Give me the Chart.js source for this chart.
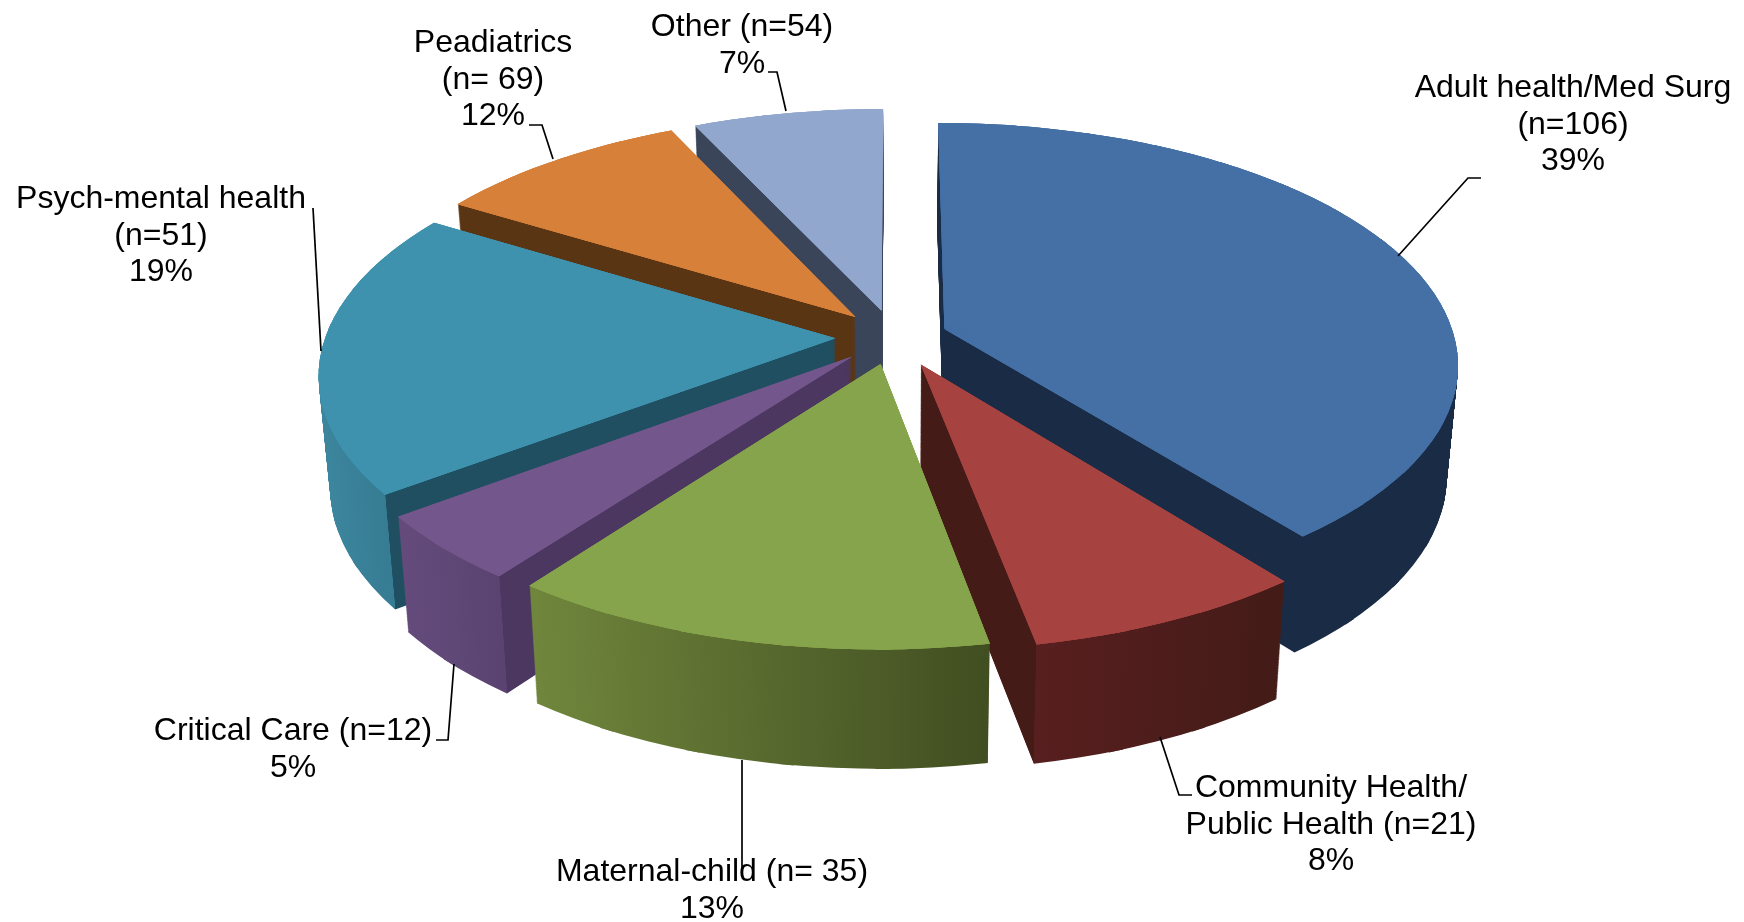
<!DOCTYPE html>
<html>
<head>
<meta charset="utf-8">
<style>html,body{margin:0;padding:0;background:#fff}canvas{display:block}</style>
<script src="https://cdn.jsdelivr.net/npm/chart.js@4"></script>
</head>
<body>
<canvas id="c" width="1744" height="922"></canvas>
<script>
// Slice shares (clockwise from 12 o'clock).
const categories = ['Adult health/Med Surg','Community Health/Public Health','Maternal-child','Critical Care','Psych-mental health','Peadiatrics','Other'];
const sliceShares = [39.3, 7.6, 13.1, 4.5, 19, 9.3, 6.9];
const counts = [106, 21, 35, 12, 51, 69, 54];
const percents = [39, 8, 13, 5, 19, 12, 7];
const explodes = [0.105, 0.125, 0.115, 0.115, 0.115, 0.115, 0.115];
const topColors = ['#4570A5','#A64341','#86A44B','#73568C','#3F92AE','#D7803A','#92A7CD'];
const wallColors = ['#1A2B45','#451B17','#434F22','#4B3760','#1F4F60','#5A3514','#3A455A'];
const rimLeftColors = ['#1A2B45','#581F1F','#70863C','#644B7C','#3C869E','#5A3514','#3A455A'];
const rimRightColors = ['#1A2B45','#431B17','#414E21','#5A4370','#367C93','#5A3514','#3A455A'];
const paintOrder = [6,5,4,0,3,1,2];

// Text blocks: lines, centre x, first line centre y
const labelLines = [
  ['Adult health/Med Surg','(n=106)','39%'],
  ['Community Health/','Public Health (n=21)','8%'],
  ['Maternal-child (n= 35)','13%'],
  ['Critical Care (n=12)','5%'],
  ['Psych-mental health','(n=51)','19%'],
  ['Peadiatrics','(n= 69)','12%'],
  ['Other (n=54)','7%']
];
const labelAnchors = [[1573,88],[1331,788],[712,872],[293,731],[161,199],[493,43],[742,27]];
const leaders = [
  [[1398,256],[1468,178],[1481,178]],
  [[1160,737],[1179,795],[1192,795]],
  [[742,760],[742,873]],
  [[454,664],[448,740],[436,740]],
  [[321,351],[313,208]],
  [[553,159],[542,125],[529,125]],
  [[786,111],[777,72],[768,72]]
];

// Camera used for the tilted, perspective view of the pie
const view = {cx:894, cy:337, rx:510, ry:237, p:0.141, height:110, rxShrink:0.02, ryGrow:0.03};
function project(X, Y, t){
  const w = 1 - view.p*Y;
  return [view.cx + view.rx*(1-view.rxShrink*t)*X/w,
          view.cy + view.height*t + view.ry*(1+view.ryGrow*t)*Y/w];
}
function shift(arc){
  const mid=(arc.startAngle+arc.endAngle)/2, d=explodes[arc.$index];
  return [d*Math.cos(mid), d*Math.sin(mid)];
}
// Affine map taking one narrow wedge of the element onto its projected position
function wedgeAffine(arc, a1, a2, t){
  const [ox,oy] = shift(arc);
  const P0 = project(ox,oy,t);
  const P1 = project(Math.cos(a1)+ox,Math.sin(a1)+oy,t);
  const P2 = project(Math.cos(a2)+ox,Math.sin(a2)+oy,t);
  const u1=Math.cos(a1), v1=Math.sin(a1), u2=Math.cos(a2), v2=Math.sin(a2);
  const det=u1*v2-u2*v1;
  const dx1=P1[0]-P0[0], dy1=P1[1]-P0[1], dx2=P2[0]-P0[0], dy2=P2[1]-P0[1];
  const r=arc.outerRadius;
  const A=(dx1*v2-dx2*v1)/det/r, B=(dx2*u1-dx1*u2)/det/r;
  const C=(dy1*v2-dy2*v1)/det/r, D=(dy2*u1-dy1*u2)/det/r;
  return {A,B,C,D,E:P0[0]-A*arc.x-B*arc.y,F:P0[1]-C*arc.x-D*arc.y};
}
function frontRange(arc, t){
  const s=arc.startAngle,e=arc.endAngle;
  const [ox,oy]=shift(arc);
  let lo=1e9, hi=-1e9;
  for(let i=0;i<=40;i++){
    const a=s+(e-s)*i/40;
    if(Math.sin(a)<-0.02) continue;
    const x=project(Math.cos(a)+ox,Math.sin(a)+oy,t)[0];
    lo=Math.min(lo,x); hi=Math.max(hi,x);
  }
  return [lo,hi];
}
const wedgeStep = 10*Math.PI/180, seam = 1.5*Math.PI/180;
function drawLayer(ctx, arc, t, fill, passes){
  const s=arc.startAngle, e=arc.endAngle, n=Math.max(1,Math.ceil((e-s)/wedgeStep));
  for(let pass=0;pass<passes;pass++){
    for(let w=0;w<n;w++){
      const a1=s+(e-s)*w/n, a2=s+(e-s)*(w+1)/n;
      const f=wedgeAffine(arc,a1,a2,t);
      ctx.save();
      ctx.transform(f.A,f.C,f.B,f.D,f.E,f.F);
      const proxy=Object.create(arc);
      proxy.startAngle=a1;
      proxy.endAngle=(w<n-1)?a2+seam:a2;
      proxy.circumference=proxy.endAngle-proxy.startAngle;
      proxy.options={backgroundColor:fill(f),borderColor:'transparent',borderWidth:0,borderAlign:'center',
        borderDash:[],borderDashOffset:0,borderJoinStyle:undefined,borderRadius:0,circular:true,offset:0,spacing:0,selfJoin:false};
      arc.draw.call(proxy,ctx);
      ctx.restore();
    }
  }
}
const pie3d = {
  id:'pie3d',
  beforeDatasetsDraw(chart){
    const ctx=chart.ctx, arcs=chart.getDatasetMeta(0).data;
    arcs.forEach((a,i)=>{a.$index=i;});
    paintOrder.forEach(i=>{
      const arc=arcs[i];
      const steps=Math.ceil(view.height*1.3);
      for(let k=steps;k>=1;k--){
        const t=k/steps;
        const [lo,hi]=frontRange(arc,t);
        drawLayer(ctx,arc,t,(f)=>{
          const n=f.A*f.A+f.B*f.B, qx=(X)=>[(X-f.E)*f.A/n,(X-f.E)*f.B/n];
          const q0=qx(0), q1=qx(1744);
          const g=ctx.createLinearGradient(q0[0],q0[1],q1[0],q1[1]);
          const clamp=(x)=>Math.min(1,Math.max(0,x/1744));
          g.addColorStop(0,wallColors[i]);
          g.addColorStop(clamp(lo-0.5),wallColors[i]);
          g.addColorStop(clamp(lo),rimLeftColors[i]);
          g.addColorStop(clamp(hi),rimRightColors[i]);
          g.addColorStop(clamp(hi+0.5),wallColors[i]);
          g.addColorStop(1,wallColors[i]);
          return g;
        },1);
      }
      drawLayer(ctx,arc,0,()=>topColors[i],3);
    });
    return false;
  },
  afterDraw(chart){
    const ctx=chart.ctx;
    ctx.save();
    ctx.strokeStyle='#000'; ctx.lineWidth=1.7;
    leaders.forEach(l=>{
      ctx.beginPath();
      l.forEach((p,i)=>i?ctx.lineTo(p[0],p[1]):ctx.moveTo(p[0],p[1]));
      ctx.stroke();
    });
    ctx.fillStyle='#000';
    ctx.font='32px "Liberation Sans", Arial, sans-serif';
    ctx.textAlign='center'; ctx.textBaseline='middle';
    labelLines.forEach((lines,i)=>{
      lines.forEach((s,j)=>ctx.fillText(s,labelAnchors[i][0],labelAnchors[i][1]+j*36.7));
    });
    ctx.restore();
  }
};
new Chart(document.getElementById('c'),{
  type:'pie',
  data:{labels:categories,datasets:[{data:sliceShares,backgroundColor:topColors,borderWidth:0}]},
  options:{responsive:false,animation:false,events:[],
    plugins:{legend:{display:false},tooltip:{enabled:false},title:{display:false}}},
  plugins:[pie3d]
});
</script>
</body>
</html>
